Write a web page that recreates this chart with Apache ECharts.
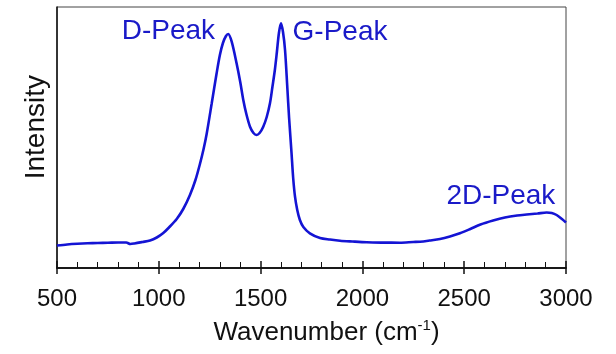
<!DOCTYPE html>
<html>
<head>
<meta charset="utf-8">
<script src="https://cdn.jsdelivr.net/npm/echarts@6/dist/echarts.min.js"></script>
<style>html,body{margin:0;padding:0;background:#fff}#c{width:616px;height:354px}</style>
</head>
<body>
<div id="c"></div>
<script>
// Raman spectrum (wavenumber in cm^-1, intensity in arbitrary units)
const wavenumbers = [500,550,600,650,700,750,800,840,860,880,920,957,990,1022,1050,1088,1120,1153,1180,1202,1220,1235,1260,1284,1300,1315,1330,1341,1358,1382,1400,1415,1430,1448,1465,1480,1495,1513,1530,1546,1558,1570,1580,1590,1600,1610,1620,1631,1640,1652,1660,1669,1680,1693,1710,1742,1792,1841,1890,1950,2021,2100,2184,2250,2283,2330,2381,2430,2479,2530,2580,2642,2700,2760,2807,2860,2905,2930,2954,2980,3000];
const intensity = [22.5,23.5,24.2,24.7,25,25.2,25.5,25.5,24,24.5,26,27.5,30.5,35,40.5,49,59,73,88,104,119,134,164.7,194.7,213,225,232,234,226.3,204.7,186,168,154,141.3,135,133,135,141.3,151,164.7,181,198,216,235,244.7,236,218,181.3,150,114.7,90,71.3,58,48,41,34.7,30,28.5,27.3,26.5,25.7,25.4,25.3,26,26.3,27.5,29,31.5,34.7,39,43.5,47.5,50.5,52.5,53.5,54.5,55.5,55,53,49,45.5];
const peakLabels = ['D-Peak','G-Peak','2D-Peak'];
const peakLabelAt = [[1047,237],[1890,236],[2680,72]];
const xTickMin = 500, xTickMax = 3000, xTickStep = 500;
const xTitle = 'Wavenumber', yTitle = 'Intensity';

const blue = '#1414d4';
const font = '"Liberation Sans", Arial, sans-serif';
const chart = echarts.init(document.getElementById('c'), null, {renderer:'canvas'});
const pts = wavenumbers.map((w,i)=>[w,intensity[i]]);

chart.setOption({
  animation:false,
  backgroundColor:'#fff',
  grid:{left:57,right:50,top:7,bottom:86,show:true,borderColor:'#444',borderWidth:1},
  xAxis:[{
    type:'value',min:xTickMin,max:xTickMax,interval:xTickStep,position:'bottom',
    axisLine:{show:true,onZero:false,lineStyle:{color:'#111',width:1.5}},
    axisTick:{show:true,inside:true,length:7,lineStyle:{color:'#111',width:1.5}},
    minorTick:{show:true,splitNumber:5,length:6,lineStyle:{color:'#111',width:1}},
    splitLine:{show:false},
    axisLabel:{fontSize:24,color:'#111',fontFamily:font,margin:19,formatter:v=>String(v)},
    name:'{a|' + xTitle + ' (cm}{s|-1}{a|)}',nameLocation:'middle',nameGap:50,
    nameTextStyle:{fontFamily:font,color:'#111',padding:[0,0,0,30],rich:{
      a:{fontSize:26,fontFamily:font,color:'#111'},
      s:{fontSize:15,fontFamily:font,color:'#111',verticalAlign:'top',padding:[0,0,14,0]}
    }}
  },{
    type:'value',min:xTickMin,max:xTickMax,interval:xTickStep,position:'bottom',
    axisLine:{show:true,onZero:false,lineStyle:{color:'#111',width:1.5}},
    axisTick:{show:true,inside:false,length:6,lineStyle:{color:'#111',width:1.5}},
    axisLabel:{show:false},splitLine:{show:false}
  }],
  yAxis:{
    type:'value',min:0,max:261,
    axisLine:{show:true,lineStyle:{color:'#111',width:1.5}},
    axisTick:{show:false},axisLabel:{show:false},splitLine:{show:false}
  },
  graphic:[{
    type:'text',left:22,top:75,rotation:Math.PI/2,
    style:{text:yTitle,fontSize:28,fontFamily:font,fill:'#111'}
  }],
  series:[{
    type:'line',data:pts,xAxisIndex:0,showSymbol:false,smooth:0.3,
    lineStyle:{color:blue,width:2.6},
    markPoint:{
      symbol:'circle',symbolSize:0,
      label:{show:true,position:'inside',color:'#1a1ac8',fontSize:28,fontFamily:font,formatter:p=>p.name},
      data:peakLabels.map((n,i)=>({name:n,coord:peakLabelAt[i]}))
    }
  }]
});
</script>
</body>
</html>
